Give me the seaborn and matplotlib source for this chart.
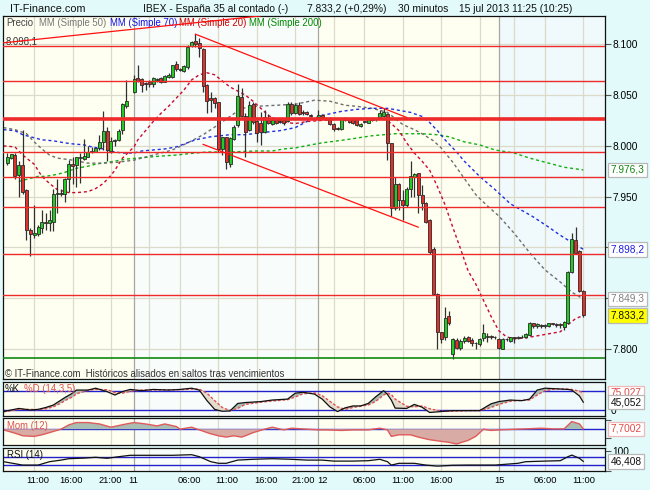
import matplotlib
matplotlib.use("Agg")
import matplotlib.pyplot as plt
import seaborn as sns

plt.rcParams["font.family"] = ["Liberation Sans", "DejaVu Sans"]

# 30 minute candles, None = empty slot
opens = [7983, 7988, 7991, 7971, 7981, 7957, 7917, 7912, 7913, 7919,
         7925, 7924, 7925, 7953, 7954, 7953, 7967, 7982, 7981, 7988,
         7987, 7989, 7994, 7994, 7998, 8004, 8015, 7995, 8005, 8006,
         8016, 8039, None, 8053, 8067, 8066, 8062, 8062.5, 8060.5, 8064.5,
         8066.5, 8063, 8068, 8067.5, 8080.5, 8075.5, 8074, 8077.5, 8098.5, 8103,
         8101, 8095.5, 8060, 8047.5, 8047.5, 8043, 7996.5, 8008.5, 7982, 8006.5,
         8020.5, 8048.5, 8029.5, 8015.5, 8041, 8024.5, 8023, 8014, 8025.5, 8022,
         8025.5, 8024.5, 8025.5, 8025, 8041, 8032, 8040, 8033.5, 8033.5, 8030.5,
         None, 8028, 8030.5, 8027, 8027, 8022, 8017.5, 8017, 8025.5, 8026,
         8025.5, 8025.5, 8019.5, 8024, 8023, 8026, 8026, 8028, 8029.5, 8031.5,
         8002.5, 7938.5, 7962.5, 7946.5, 7942, 7958, 7969.5, 7973, 7951.5, 7944,
         7927, 7898, 7854, 7816.5, 7812, 7832.5, 7795, 7809, 7801.5, 7808,
         7812, 7809, 7806.2, 7805, 7810.5, 7812, 7812.5, 7811.5, 7809.5, 7800.5,
         7809.5, 7808, 7811.5, 7811, 7811.5, 7811.5, 7814, 7825.5, 7822.5, 7823.5,
         7823, 7823, 7825.5, 7824.5, 7824.5, 7821.5, 7825.5, 7876, 7907.5, 7897, 7857.5]
highs = [7993, 7992, 7993, 7985, 8016, 7958, 7919, 7942, 7922, 7937,
         7934, 7937, 7958, 7967, 7958, 7968, 7986, 7989, 7989, 7993,
         8007, 8000, 7999, 7998, 8011, 8034, 8019, 8009, 8007, 8017,
         8042, 8065, None, 8070, 8080, 8067, 8063, 8065, 8068, 8066.5,
         8068, 8070, 8072, 8080, 8083.5, 8077, 8079.5, 8099, 8103, 8110,
         8106, 8096, 8060.5, 8053.5, 8048.5, 8043.5, 8009, 8009, 8008.5, 8020.5,
         8060.5, 8057, 8032, 8044, 8043, 8028, 8033, 8035, 8031, 8028.5,
         8026.5, 8025.5, 8027, 8043.5, 8043, 8042, 8043.5, 8035.5, 8034.5, 8031.5,
         None, 8035.5, 8031.5, 8028, 8028.5, 8023, 8019, 8027, 8028, 8027,
         8026, 8027, 8023, 8025, 8027, 8027, 8027, 8035.5, 8037, 8032,
         8003, 7969, 7963, 7956.5, 7960, 7985.5, 7973.5, 7973.5, 7961.5, 7945,
         7928, 7900.5, 7855, 7817, 7841, 7837, 7810.5, 7810.5, 7809.5, 7813,
         7813, 7810.5, 7807, 7810.5, 7824.5, 7816, 7814, 7813, 7810.5, 7810.5,
         7811, 7812, 7812, 7812.5, 7813.5, 7816, 7827, 7826, 7826, 7824.5,
         7824.5, 7826, 7826, 7826, 7826, 7828, 7877, 7914, 7920, 7897.5, 7858]
lows = [7981, 7987, 7967, 7950, 7953, 7907, 7892, 7909, 7911, 7914,
        7917, 7916, 7916, 7934, 7951, 7945, 7955, 7962, 7960, 7963,
        7986, 7989, 7993, 7994, 7996, 7996, 7985, 7993, 8000, 8005,
        8012, 8037, None, 8052, 8063, 8053, 8055, 8058, 8058, 8063,
        8061.5, 8062.5, 8067, 8066.5, 8074, 8073.5, 8073, 8076, 8097.5, 8097.5,
        8088, 8053.5, 8032, 8033, 8037, 7994, 7991, 7977, 7979.5, 8006,
        8019, 8028, 7989.5, 8014.5, 8022, 8004, 8001, 8013, 8022, 8020.5,
        8022, 8023, 8021, 8024, 8030.5, 8031.5, 8030.5, 8030.5, 8030.5, 8028.5,
        None, 8027, 8027, 8025.5, 8020.5, 8015, 8015.5, 8016, 8025, 8023,
        8022, 8019.5, 8019, 8022.5, 8022.5, 8025, 8025, 8027, 8028.5, 7986,
        7931, 7937, 7937, 7927, 7940, 7950, 7950, 7933.5, 7937, 7924.5,
        7894, 7853, 7800.5, 7805.5, 7809, 7823.5, 7790, 7800.5, 7799.5, 7805.5,
        7807, 7802.5, 7800.5, 7803, 7808, 7807, 7810, 7809.5, 7800.5, 7800,
        7808, 7807, 7805.5, 7809.5, 7810.5, 7810.5, 7813, 7821, 7821, 7820.5,
        7821, 7822, 7823.5, 7822, 7820.5, 7818.5, 7824.5, 7874.5, 7893.5, 7856.5, 7832]
closes = [7989, 7992, 7970, 7981, 7955, 7917, 7913, 7914, 7920, 7925,
          7924.5, 7927, 7953, 7954, 7953, 7967, 7982, 7980, 7989, 7988.5,
          7990, 7994, 7995, 7998, 8004, 8015, 7996, 8005, 8006, 8015,
          8041, 8044, None, 8066, 8064, 8060, 8061, 8060.5, 8066.5, 8065.5,
          8062.5, 8069, 8070, 8079.5, 8075.5, 8074.5, 8078.5, 8097.5, 8102.5, 8100,
          8096, 8058.5, 8044, 8045.5, 8042, 7997, 8008.5, 7984, 8007.5, 8019,
          8049, 8029.5, 8014, 8040, 8024, 8012.5, 8014, 8028.5, 8023, 8025.5,
          8023, 8024, 8022.5, 8041, 8032, 8040, 8031.5, 8032.5, 8031.5, 8029.5,
          None, 8030.5, 8028, 8026.5, 8021.5, 8016.5, 8016.5, 8026, 8027, 8024,
          8023, 8020.5, 8022, 8023.5, 8026, 8025.5, 8026.5, 8032.5, 8033.5, 8002.5,
          7938.5, 7962.5, 7946.5, 7942, 7958, 7970.5, 7972.5, 7951.5, 7944, 7925.5,
          7896, 7854, 7817, 7809.5, 7831, 7825.5, 7809.5, 7801.5, 7808, 7811,
          7808, 7806, 7805.6, 7809.5, 7815.5, 7813, 7812, 7811.8, 7801.5, 7809.5,
          7809.8, 7811.5, 7810.5, 7811.7, 7812, 7815, 7825.5, 7822.5, 7824.5, 7823,
          7823.2, 7825.5, 7825, 7824, 7823.5, 7827, 7876, 7908, 7895, 7857.5, 7833.2]

# moving averages (bar index, value)
ma20_i = [-1, 2, 4, 7, 9, 11, 13, 16, 18, 21, 23, 25, 27, 28, 30, 33, 34, 36, 38, 40,
          42, 44, 46, 48, 50, 52, 54, 56, 58, 60, 62, 64, 66, 68, 70, 73, 75, 78, 85, 92,
          98, 100, 102, 104, 106, 108, 110, 112, 114, 116, 118, 120, 122, 124, 126, 128,
          130, 132, 135, 138, 141, 144, 146, 148, 150]
ma20_v = [8000, 7999, 7991, 7982, 7970, 7963, 7957, 7954, 7954, 7955, 7958, 7963, 7971,
          7976, 7988, 7999, 8006, 8015, 8024, 8032, 8039, 8047, 8055, 8065, 8070, 8072,
          8070, 8064, 8058, 8054, 8050, 8044, 8037, 8030, 8026, 8023, 8022, 8024, 8026,
          8027, 8027, 8022, 8015, 8003, 7993, 7985, 7976, 7960, 7942, 7920, 7899, 7877,
          7864, 7848, 7832, 7818, 7812, 7810, 7811, 7813, 7815, 7817, 7824, 7830, 7833]
ma50_i = [-1, 2, 5, 7, 9, 11, 13, 17, 21, 25, 29, 33, 37, 43, 47, 51, 55, 58, 61, 65,
          70, 75, 80, 84, 88, 91, 95, 99, 101, 103, 106, 108, 111, 113, 116, 119, 122,
          125, 128, 132, 136, 140, 144, 147, 150]
ma50_v = [8018, 8016, 8012, 8004, 7997, 7991, 7988, 7986, 7983, 7983, 7984, 7986, 7990,
          7996, 8003, 8011, 8021, 8029, 8037, 8039, 8040, 8041, 8045, 8044, 8040, 8039,
          8037, 8033, 8027, 8021, 8016, 8012, 8005, 7998, 7984, 7968, 7952, 7941, 7931,
          7914, 7895, 7878, 7866, 7856, 7849.3]
ma70_i = [-1, 2, 4, 7, 9, 12, 15, 17, 20, 22, 25, 28, 30, 33, 35, 38, 41, 44, 49, 53,
          58, 62, 66, 71, 75, 77, 79, 82, 87, 91, 95, 99, 102, 105, 108, 110, 112, 114,
          117, 119, 123, 127, 131, 137, 141, 144, 147, 150]
ma70_v = [8016, 8015, 8011, 8008, 8006, 8005, 8003, 8002, 8001, 7999, 7997, 7994, 7993,
          7993, 7995, 7996, 7997, 7999, 8006, 8009, 8011, 8011, 8013, 8015, 8018, 8022,
          8026, 8030, 8034, 8036, 8037, 8037, 8035, 8033, 8029, 8023, 8015, 8006, 7994,
          7985, 7970, 7957, 7943, 7930, 7920, 7912, 7905, 7898.2]
ma200_i = [3, 5, 8, 10, 13, 15, 18, 21, 23, 28, 31, 34, 37, 40, 44, 49, 52, 58, 65, 69,
           72, 75, 79, 82, 88, 95, 101, 108, 112, 115, 119, 123, 127, 132, 136, 140, 145, 150]
ma200_v = [7965, 7967, 7970, 7970, 7972, 7974, 7978, 7980, 7982, 7985, 7987, 7988, 7989,
           7990, 7991, 7993, 7994, 7994, 7995, 7995, 7997, 7998, 8001, 8003, 8006, 8010,
           8012, 8012, 8011, 8009, 8004, 8001, 7996, 7993, 7988, 7984, 7979, 7976.3]

# stochastic %K / %D
st_i = [-1, 3, 6, 8, 10, 12, 14, 15, 17, 18, 21, 23, 26, 28, 30, 32, 35, 38, 42, 45,
        48, 50, 52, 54, 56, 58, 60, 62, 66, 69, 73, 75, 77, 80, 82, 84, 86, 88, 90, 92,
        94, 96, 98, 99, 100, 101, 104, 106, 108, 110, 113, 116, 120, 123, 126, 128, 131,
        134, 136, 138, 140, 143, 146, 147, 149, 150]
st_k = [15, 25, 20, 22, 28, 36, 52, 60, 74, 84, 84, 90, 79, 68, 79, 86, 82, 86, 84, 86,
        90, 84, 50, 22, 16, 17, 41, 44, 47, 52, 55, 74, 77, 71, 55, 30, 15, 27, 33, 33,
        41, 63, 82, 70, 52, 26, 25, 38, 29, 12, 15, 18, 18, 18, 40, 47, 52, 50, 55, 84,
        90, 88, 86, 84, 65, 45.052]
st_d = [14, 22, 22, 21, 24, 30, 42, 50, 62, 72, 83, 86, 85, 76, 74, 80, 84, 84, 85, 85,
        87, 87, 74, 50, 28, 18, 25, 38, 45, 49, 53, 62, 72, 75, 66, 48, 30, 22, 28, 32,
        36, 48, 68, 74, 70, 55, 32, 30, 33, 24, 16, 16, 18, 18, 28, 38, 48, 51, 52, 68,
        82, 88, 87, 86, 80, 75.027]

# momentum (12)
mo_i = [-1, 2, 4, 7, 9, 12, 14, 16, 18, 21, 24, 27, 31, 33, 36, 39, 41, 44, 45, 48,
        50, 53, 55, 57, 59, 61, 62, 64, 67, 69, 72, 74, 78, 81, 83, 87, 90, 94, 97, 99,
        100, 102, 105, 107, 110, 113, 115, 117, 120, 122, 124, 126, 128, 135, 139, 142,
        145, 147, 149, 150]
mo_v = [-14, -80, -134, -146, -114, -46, 0, 86, 134, 134, 106, 40, 106, 134, 106, 66,
        106, 54, 0, 40, -14, -94, -134, -160, -134, -160, -134, -70, 0, 40, -14, 20, 0,
        -14, -14, -26, -14, -14, 20, -14, -146, -114, -114, -160, -214, -246, -266, -300,
        -226, -146, 0, -26, -14, 6, 20, 6, 6, 154, 106, 7.7002]

# RSI (14)
rs_i = [-1, 2, 4, 8, 11, 14, 16, 20, 23, 26, 29, 32, 37, 43, 48, 50, 53, 55, 57, 60,
        64, 69, 74, 78, 82, 85, 90, 94, 97, 99, 100, 102, 106, 109, 112, 116, 120, 127,
        133, 135, 140, 144, 146, 147, 149, 150]
rs_v = [45, 35, 28, 28, 45, 53, 60, 63, 67, 62, 70, 77, 77, 77, 80, 70, 45, 37, 37, 53,
        57, 60, 57, 53, 53, 48, 48, 50, 57, 45, 28, 37, 37, 28, 23, 27, 28, 28, 37, 45,
        48, 50, 70, 78, 62, 46.408]

# support / resistance and trend lines
levels = [8098.1, 8063.6, 7993.7, 7969.4, 7939.5, 7893.5, 7852.9]
level_main = 8026.7
level_green = 7790.9
trends = [([-1, 66], [8101.5, 8128]), ([49, 104], [8110, 8028]), ([51, 107], [8001.5, 7920])]

grid_x = [7, 17, 27, 37, 45, 55, 65, 75, 85, 93, 103, 113, 123, 132, 140, 150]
day_x = [33, 81, 128]
tick_pos = [7.9, 16.7, 26.8, 32.9, 47.3, 57.1, 67.3, 77.1, 82.1, 92.9, 103.1, 112.9, 128.1, 140, 150]
tick_lab = ["11:00", "16:00", "21:00", "11", "06:00", "11:00", "16:00", "21:00", "12",
            "06:00", "11:00", "16:00", "15", "06:00", "11:00"]

W, H = 650, 490
BG = "#E2FAFA"
CREAM = "#FFFFF1"
DAY11 = "#F8FCFA"
DAY15 = "#F0F9FB"
GRID = "#DCDBCA"
FS = 6.9
NFS = 7.3


def rect(x0, y0, x1, y1):
    return [x0 / W, 1 - y1 / H, (x1 - x0) / W, (y1 - y0) / H]


def num(v, dec=1):
    s = f"{v:,.{dec}f}"
    return s.replace(",", "X").replace(".", ",").replace("X", ".")


fig = plt.figure(figsize=(W / 100, H / 100), dpi=100, facecolor=BG)
ax = fig.add_axes(rect(3.3, 16, 605, 379.3))
ax_st = fig.add_axes(rect(3.3, 382.3, 605, 415.7))
ax_mo = fig.add_axes(rect(3.3, 418.3, 605, 445))
ax_rs = fig.add_axes(rect(3.3, 448.3, 605, 470.7))

for a in [ax, ax_st, ax_mo, ax_rs]:
    a.set_facecolor(CREAM)
    a.set_xlim(-1.04, 155.65)
    a.axvspan(33, 81, color=DAY11, lw=0, zorder=0)
    a.axvspan(128, 157, color=DAY15, lw=0, zorder=0)
    for g in grid_x:
        a.axvline(g, color=GRID, lw=0.9, zorder=0.5)
    for d in day_x:
        a.axvline(d, color="#A7A7A0", lw=0.9, zorder=0.6)
    for s in a.spines.values():
        s.set_color("#111111")
        s.set_linewidth(0.9)
    a.tick_params(axis="x", bottom=False, labelbottom=False)
    a.yaxis.tick_right()
    a.tick_params(axis="y", length=4.3, width=0.8, color="#555555", labelsize=NFS, pad=1.2)


def ftext(a, x, y, s, color="#111111", size=FS, **kw):
    # text placed in figure pixels, drawn inside axes a so lines can cross it
    a.text(x / W, 1 - y / H, s, transform=fig.transFigure, fontsize=size, va="center",
           color=color, clip_on=False, **kw)


# ---- main price panel
ax.set_ylim(7770.2, 8127.9)
for v in range(7800, 8101, 50):
    ax.axhline(v, color=GRID, lw=0.9, zorder=0.5)
yt = [7800, 7850, 7900, 7950, 8000, 8050, 8100]
ax.set_yticks(yt)
ax.set_yticklabels([num(v, 0) if v not in (7850, 7900) else "" for v in yt])

dash = (0, (2.2, 2.0))
sns.lineplot(x=ma200_i, y=ma200_v, ax=ax, color="#10B010", lw=1.0, linestyle=dash, zorder=2)
sns.lineplot(x=ma50_i, y=ma50_v, ax=ax, color="#6E6E6E", lw=1.0, linestyle=dash, zorder=2)
sns.lineplot(x=ma70_i, y=ma70_v, ax=ax, color="#2030E0", lw=1.0, linestyle=dash, zorder=2)
sns.lineplot(x=ma20_i, y=ma20_v, ax=ax, color="#CC0830", lw=1.0, linestyle=dash, zorder=2)

idx = [i for i in range(len(opens)) if opens[i] is not None]
o = [opens[i] for i in idx]
c = [closes[i] for i in idx]
hi = [highs[i] for i in idx]
lo = [lows[i] for i in idx]
ax.vlines(idx, lo, hi, color="#303030", lw=0.9, zorder=3)
ax.bar(idx, [max(abs(b - a), 0.8) for a, b in zip(o, c)],
       bottom=[min(a, b) for a, b in zip(o, c)], width=0.78,
       color=["#22CC22" if b >= a else "#E2302A" for a, b in zip(o, c)],
       edgecolor="#2A2A2A", linewidth=0.6, zorder=3.1)

for v in levels:
    ax.axhline(v, color="#EE2A2A", lw=1.0, zorder=4)
ax.axhline(level_main, color="#EE2A2A", lw=2.6, zorder=4)
ax.axhline(level_green, color="#118811", lw=1.2, zorder=4)
for tx, ty in trends:
    ax.plot(tx, ty, color="#FF1010", lw=0.9, zorder=4.5)


def tag(a, y, text, color, fc="white", ec="#B8B8B8"):
    a.text(1.0095, y, text, transform=a.get_yaxis_transform(), ha="left", va="center",
           fontsize=NFS, color=color, clip_on=False, zorder=10,
           bbox=dict(boxstyle="square,pad=0.22", fc=fc, ec=ec, lw=0.9))


tag(ax, ma200_v[-1], num(ma200_v[-1]), "#108810")
tag(ax, ma70_v[-1], num(ma70_v[-1]), "#2020DD")
tag(ax, ma50_v[-1], num(ma50_v[-1]), "#808080")
tag(ax, closes[-1], num(closes[-1]), "#111111", fc="#FFFF00")

# header and captions
ftext(ax, 10, 8.5, "IT-Finance.com", size=7.8)
for x0, s in [(143, "IBEX - España 35 al contado (-)"), (306.7, "7.833,2 (+0,29%)"),
              (398.3, "30 minutos"), (459, "15 jul 2013 11:25 (10:25)")]:
    ftext(ax, x0, 8.5, s, size=7.4)
for x0, s, col in [(6.7, "Precio", "#444444"), (39.3, "MM (Simple 50)", "#777777"),
                   (110, "MM (Simple 70)", "#1010EE"), (179.3, "MM (Simple 20)", "#CC0000"),
                   (248.7, "MM (Simple 200)", "#008800")]:
    ftext(ax, x0, 22.7, s, color=col, zorder=3)
ftext(ax, 6, 41.5, "8.098,1", color="#333333", size=6.9, zorder=3)
ftext(ax, 5, 374.3, "\u00a9 IT-Finance.com  Históricos alisados en saltos tras vencimientos",
      color="#333333", size=6.9, zorder=3)

# ---- stochastic
ax_st.set_ylim(1.7, 108.9)
ax_st.set_yticks([])
ax_st.axhline(80, color="#2222CC", lw=1.0, zorder=1)
ax_st.axhline(20, color="#2222CC", lw=1.0, zorder=1)
ax_st.fill_between(st_i, st_k, st_d, where=[k >= d for k, d in zip(st_k, st_d)],
                   interpolate=True, color="#A9BDB2", lw=0, zorder=1.5)
ax_st.fill_between(st_i, st_k, st_d, where=[k < d for k, d in zip(st_k, st_d)],
                   interpolate=True, color="#E4DCCD", lw=0, zorder=1.5)
sns.lineplot(x=st_i, y=st_d, ax=ax_st, color="#E05050", lw=1.0, linestyle=(0, (2, 1.3)), zorder=2)
sns.lineplot(x=st_i, y=st_k, ax=ax_st, color="#111111", lw=0.9, zorder=2.1)
ax_st.text(1.0095, 0, "0", transform=ax_st.get_yaxis_transform(), ha="left", va="bottom",
           fontsize=NFS, clip_on=False)
tag(ax_st, st_d[-1], num(st_d[-1], 3), "#E04A4A", ec="#F0B8B8")
tag(ax_st, st_k[-1], num(st_k[-1], 3), "#111111")
ftext(ax_st, 5, 389, "%K", zorder=3)
ftext(ax_st, 23.5, 389, "%D (14,3,5)", color="#E05050", zorder=3)

# ---- momentum
ax_mo.set_ylim(-320, 220)
ax_mo.set_yticks([186, -180])
ax_mo.set_yticklabels(["", ""])
ax_mo.axhline(0, color="#2222CC", lw=1.0, zorder=1)
ax_mo.fill_between(mo_i, mo_v, 0, where=[v >= 0 for v in mo_v], interpolate=True,
                   color="#A9BDB2", lw=0, zorder=1.5)
ax_mo.fill_between(mo_i, mo_v, 0, where=[v < 0 for v in mo_v], interpolate=True,
                   color="#D8ABA5", lw=0, zorder=1.5)
sns.lineplot(x=mo_i, y=mo_v, ax=ax_mo, color="#E05A5A", lw=1.0, zorder=2)
tag(ax_mo, mo_v[-1], num(mo_v[-1], 4), "#E04A4A", ec="#F0B8B8")
ftext(ax_mo, 7, 426, "Mom (12)", color="#E05050", zorder=3)

# ---- RSI
ax_rs.set_ylim(0, 112)
ax_rs.set_yticks([100, 0])
ax_rs.set_yticklabels(["100", ""])
ax_rs.axhline(70, color="#2222CC", lw=1.0, zorder=1)
ax_rs.axhline(30, color="#2222CC", lw=1.0, zorder=1)
ax_rs.fill_between(rs_i, rs_v, 30, where=[v < 30 for v in rs_v], interpolate=True,
                   color="#A9BDB2", lw=0, zorder=1.5)
sns.lineplot(x=rs_i, y=rs_v, ax=ax_rs, color="#111111", lw=0.9, zorder=2)
tag(ax_rs, rs_v[-1], num(rs_v[-1], 3), "#111111")
ftext(ax_rs, 7, 455, "RSI (14)", zorder=3)

ax_rs.set_xticks(tick_pos)
ax_rs.set_xticklabels(tick_lab)
ax_rs.tick_params(axis="x", bottom=True, labelbottom=True, length=0, pad=4, labelsize=6.7)

for a in [ax, ax_st, ax_mo, ax_rs]:
    a.set_xlim(-1.04, 155.65)
    a.set_xlabel("")
    a.set_ylabel("")

fig.savefig("out.png", dpi=100, facecolor=BG)
